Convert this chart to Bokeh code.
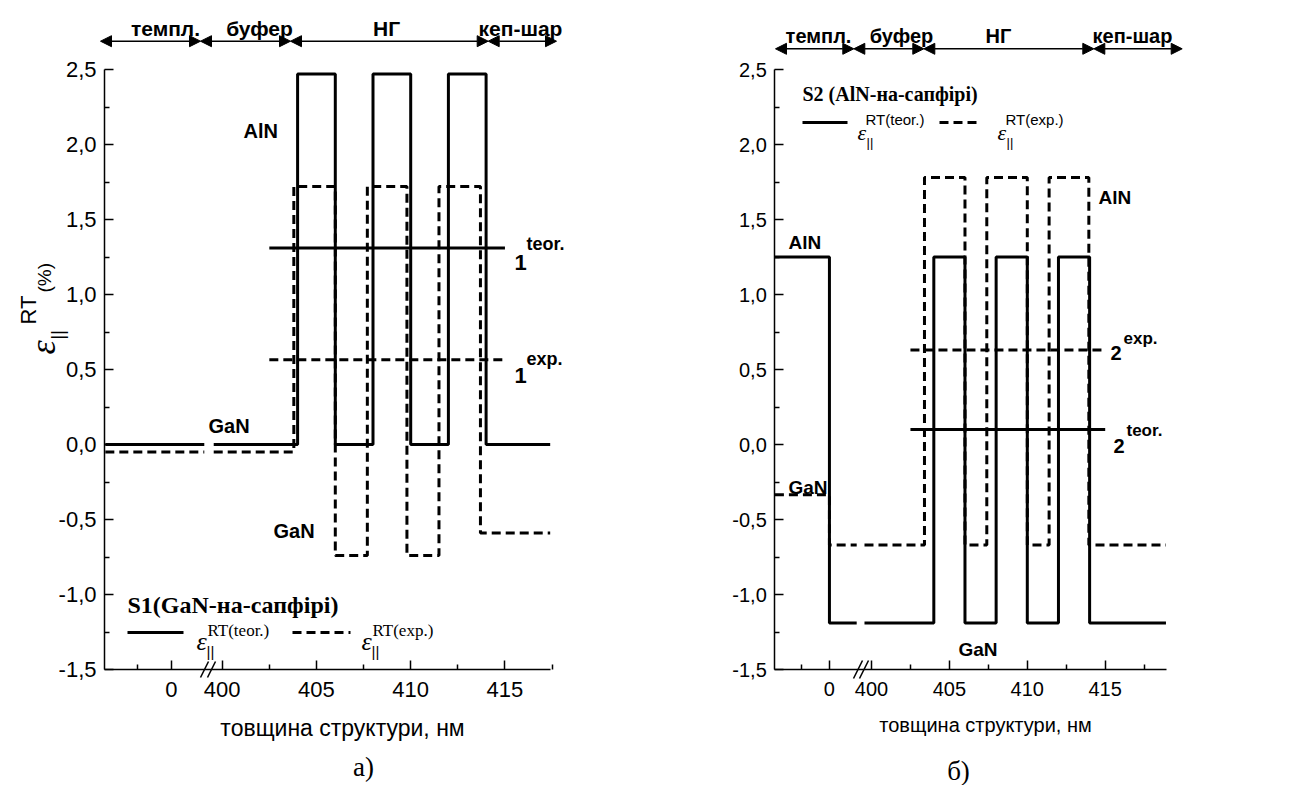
from math import pi
from bokeh.plotting import figure
from bokeh.models import (Range1d, FixedTicker, CustomJSTickFormatter, Label,
                          Arrow, NormalHead)
from bokeh.layouts import row
from bokeh.embed import file_html
from bokeh.resources import INLINE

# ---------------- data ----------------
x_ticks_nm = [0, 400, 405, 410, 415]
x_tick_labels = ["0", "400", "405", "410", "415"]
x_minor_nm = [-1.8, 402.5, 407.5, 412.5, 417.5]
y_ticks = [-1.5, -1.0, -0.5, 0.0, 0.5, 1.0, 1.5, 2.0, 2.5]
y_tick_labels = ["-1,5", "-1,0", "-0,5", "0,0", "0,5", "1,0", "1,5", "2,0", "2,5"]
y_minor = [-1.25, -0.75, -0.25, 0.25, 0.75, 1.25, 1.75, 2.25]

# S1 (GaN-на-сапфірі), panel a
a_teor_tmpl_x = [-3.5, 1.75]
a_teor_tmpl_y = [0.0, 0.0]
a_teor_x = [399.55, 404, 404, 406, 406, 408, 408, 410, 410, 412, 412, 414, 414, 417.4]
a_teor_y = [0.0, 0.0, 2.47, 2.47, 0.0, 0.0, 2.47, 2.47, 0.0, 0.0, 2.47, 2.47, 0.0, 0.0]
a_exp_tmpl_x = [-3.5, 1.75]
a_exp_tmpl_y = [-0.05, -0.05]
a_exp_x = [399.55, 403.8, 403.8, 406, 406, 407.7, 407.7, 409.8, 409.8, 411.5, 411.5, 413.7, 413.7, 417.4]
a_exp_y = [-0.05, -0.05, 1.72, 1.72, -0.74, -0.74, 1.72, 1.72, -0.74, -0.74, 1.72, 1.72, -0.59, -0.59]
a_avg_x = [402.5, 415.0]
a_avg_teor = [1.31, 1.31]
a_avg_exp = [0.565, 0.565]

# S2 (AlN-на-сапфірі), panel b
b_teor_tmpl_x = [-3.5, 0, 0, 1.75]
b_teor_tmpl_y = [1.25, 1.25, -1.19, -1.19]
b_teor_x = [399.55, 404, 404, 406, 406, 408, 408, 410, 410, 412, 412, 414, 414, 418.9]
b_teor_y = [-1.19, -1.19, 1.25, 1.25, -1.19, -1.19, 1.25, 1.25, -1.19, -1.19, 1.25, 1.25, -1.19, -1.19]
b_exp_tmpl_x = [-3.5, 0, 0, 1.75]
b_exp_tmpl_y = [-0.335, -0.335, -0.67, -0.67]
b_exp_x = [399.55, 403.4, 403.4, 406, 406, 407.4, 407.4, 410, 410, 411.4, 411.4, 413.95, 413.95, 418.9]
b_exp_y = [-0.67, -0.67, 1.78, 1.78, -0.67, -0.67, 1.78, 1.78, -0.67, -0.67, 1.78, 1.78, -0.67, -0.67]
b_avg_x = [402.5, 415.0]
b_avg_teor = [0.10, 0.10]
b_avg_exp = [0.63, 0.63]


# broken x-axis: template part (near 0) and structure part (near 400)
def disp(xs):
    return [x - 2.7 if x < 200 else x - 400 for x in xs]


SANS = "Liberation Sans"
SERIF = "Liberation Serif"
H = 785


def yv(py):
    return 2.5 - (py - 69) / 150.0


def make_fig(width, xf, x0_px, ax_left_px, ax_right_px, tick_fs):
    p = figure(width=width, height=H,
               x_range=Range1d(xf(x0_px), xf(x0_px + width)), y_range=Range1d(yv(H), yv(0)),
               output_backend="svg", toolbar_location=None, min_border=0)
    p.grid.visible = False
    p.outline_line_color = None
    p.background_fill_color = "white"
    p.border_fill_color = "white"
    p.xaxis.fixed_location = -1.5
    p.xaxis.bounds = (xf(ax_left_px), xf(ax_right_px))
    p.yaxis.fixed_location = xf(ax_left_px)
    p.yaxis.bounds = (-1.5, 2.5)
    p.xaxis.ticker = FixedTicker(ticks=disp(x_ticks_nm), minor_ticks=disp(x_minor_nm))
    p.xaxis.formatter = CustomJSTickFormatter(
        args=dict(pos=disp(x_ticks_nm), lab=x_tick_labels),
        code="for (let i = 0; i < pos.length; i++) { if (Math.abs(tick - pos[i]) < 1e-6) return lab[i]; } return '';")
    p.yaxis.ticker = FixedTicker(ticks=y_ticks, minor_ticks=y_minor)
    p.yaxis.formatter = CustomJSTickFormatter(
        args=dict(pos=y_ticks, lab=y_tick_labels),
        code="for (let i = 0; i < pos.length; i++) { if (Math.abs(tick - pos[i]) < 1e-6) return lab[i]; } return '';")
    for ax in (p.xaxis[0], p.yaxis[0]):
        ax.axis_line_width = 1.5
        ax.axis_line_color = "black"
        ax.major_tick_in = 9
        ax.major_tick_out = 0
        ax.minor_tick_in = 5
        ax.minor_tick_out = 0
        ax.major_tick_line_width = 1.5
        ax.minor_tick_line_width = 1.5
        ax.major_tick_line_color = "black"
        ax.minor_tick_line_color = "black"
        ax.major_label_text_font = SANS
        ax.major_label_text_font_size = f"{tick_fs}px"
        ax.major_label_text_color = "black"
    p.xaxis.major_label_standoff = 12
    p.yaxis.major_label_standoff = 8
    return p


def lab(p, x, y, text, size, font=SANS, style="bold", align="left", angle=0.0):
    p.add_layout(Label(x=x, y=y, text=text, text_font=font, text_font_size=f"{size}px",
                       text_font_style=style, text_align=align, text_baseline="alphabetic",
                       angle=angle, text_color="black"))


def draw_curves(p, teor_parts, exp_parts, avg_x, avg_t, avg_e):
    for xs, ys in exp_parts:
        p.line(disp(xs), ys, line_color="black", line_width=3, line_dash="9 5")
    for xs, ys in teor_parts:
        p.line(disp(xs), ys, line_color="black", line_width=3)
    p.line(disp(avg_x), avg_t, line_color="black", line_width=3)
    p.line(disp(avg_x), avg_e, line_color="black", line_width=3, line_dash="9 5")


def header(p, xs_px, xf, y_px, names, centers_px, base_px, fs):
    yy = yv(y_px)
    for i in range(len(xs_px) - 1):
        p.add_layout(Arrow(start=NormalHead(size=11, fill_color="black", line_color="black"),
                           end=NormalHead(size=11, fill_color="black", line_color="black"),
                           x_start=xf(xs_px[i]), y_start=yy, x_end=xf(xs_px[i + 1]), y_end=yy,
                           line_width=1.5, line_color="black"))
    for n, c in zip(names, centers_px):
        lab(p, xf(c), yv(base_px), n, fs, align="center")


def brk(p, xf, segs):
    for (x0, y0, x1, y1) in segs:
        p.add_layout(Arrow(start=None, end=None, x_start=xf(x0), y_start=yv(y0),
                           x_end=xf(x1), y_end=yv(y1), line_width=1.5, line_color="black"))


names = ["темпл.", "буфер", "НГ", "кеп-шар"]


# ---------------- panel a ----------------
def xa(px):
    return (px - 221.7) / 18.85


pa = make_fig(660, xa, 0, 104, 550, 22)
draw_curves(pa, [(a_teor_tmpl_x, a_teor_tmpl_y), (a_teor_x, a_teor_y)],
            [(a_exp_tmpl_x, a_exp_tmpl_y), (a_exp_x, a_exp_y)], a_avg_x, a_avg_teor, a_avg_exp)
header(pa, [100, 200, 290, 487.7, 556], xa, 40.7, names, [165, 259, 386, 520], 28, 21)
brk(pa, xa, [(200, 677, 208, 661), (207, 677, 215, 661)])

lab(pa, xa(243), yv(130), "AlN", 20)
lab(pa, xa(208), yv(425), "GaN", 20)
lab(pa, xa(273), yv(530), "GaN", 20)
lab(pa, xa(514), yv(262), "1", 22)
lab(pa, xa(526), yv(243), "teor.", 18)
lab(pa, xa(514), yv(375), "1", 22)
lab(pa, xa(526), yv(358), "exp.", 18)

# legend a
lab(pa, xa(127), yv(604), "S1(GaN-на-сапфірі)", 24, font=SERIF)
pa.line([xa(127), xa(183)], [yv(632), yv(632)], line_color="black", line_width=3)
pa.line([xa(292), xa(350)], [yv(632), yv(632)], line_color="black", line_width=3, line_dash="9 5")
for ex, sx in ((196, 207), (361, 372)):
    lab(pa, xa(ex), yv(641), "ε", 26, font=SERIF, style="italic")
    lab(pa, xa(sx - 1), yv(651), "||", 15, font=SANS, style="normal")
lab(pa, xa(207), yv(630), "RT(teor.)", 17, font=SERIF, style="normal")
lab(pa, xa(372), yv(630), "RT(exp.)", 17, font=SERIF, style="normal")

# y axis label (rotated)
lab(pa, xa(42), yv(354), "ε", 36, font=SERIF, style="italic", angle=pi / 2)
lab(pa, xa(28), yv(324), "RT", 22, font=SANS, style="normal", angle=pi / 2)
lab(pa, xa(57), yv(339), "||", 18, font=SANS, style="normal", angle=pi / 2)
lab(pa, xa(44), yv(292), "(%)", 19, font=SANS, style="normal", angle=pi / 2)

lab(pa, xa(342), yv(727), "товщина структури, нм", 23, style="normal", align="center")
lab(pa, xa(363), yv(766), "а)", 27, font=SERIF, style="normal", align="center")


# ---------------- panel b ----------------
def xb(px):
    return (px - 871.0) / 15.58


pb = make_fig(634, xb, 660, 774.3, 1165.7, 20)
draw_curves(pb, [(b_teor_tmpl_x, b_teor_tmpl_y), (b_teor_x, b_teor_y)],
            [(b_exp_tmpl_x, b_exp_tmpl_y), (b_exp_x, b_exp_y)], b_avg_x, b_avg_teor, b_avg_exp)
header(pb, [775, 853.3, 923.3, 1093.3, 1181.7], xb, 48.3, names, [818, 901, 998, 1132], 35, 20)
brk(pb, xb, [(853, 678, 862, 660), (859, 678, 868, 660)])

lab(pb, xb(788), yv(242), "AlN", 19)
lab(pb, xb(1098), yv(197), "AlN", 19)
lab(pb, xb(788), yv(487), "GaN", 19)
lab(pb, xb(958), yv(649), "GaN", 19)
lab(pb, xb(1110), yv(352), "2", 20)
lab(pb, xb(1123), yv(338), "exp.", 17)
lab(pb, xb(1113), yv(445), "2", 20)
lab(pb, xb(1126), yv(430), "teor.", 17)

# legend b
lab(pb, xb(802), yv(93), "S2 (AlN-на-сапфірі)", 20, font=SERIF)
pb.line([xb(802), xb(847)], [yv(122), yv(122)], line_color="black", line_width=3)
pb.line([xb(939), xb(977)], [yv(122), yv(122)], line_color="black", line_width=3, line_dash="9 5")
for ex, sx in ((857, 866), (997, 1006)):
    lab(pb, xb(ex), yv(132), "ε", 22, font=SERIF, style="italic")
    lab(pb, xb(sx), yv(142), "||", 13, font=SANS, style="normal")
lab(pb, xb(865), yv(119), "RT(teor.)", 15, font=SANS, style="normal")
lab(pb, xb(1005), yv(119), "RT(exp.)", 15, font=SANS, style="normal")

lab(pb, xb(985), yv(724), "товщина структури, нм", 20, style="normal", align="center")
lab(pb, xb(958), yv(770), "б)", 27, font=SERIF, style="normal", align="center")

layout = row(pa, pb)
open("out.html", "w").write(file_html(layout, INLINE))
